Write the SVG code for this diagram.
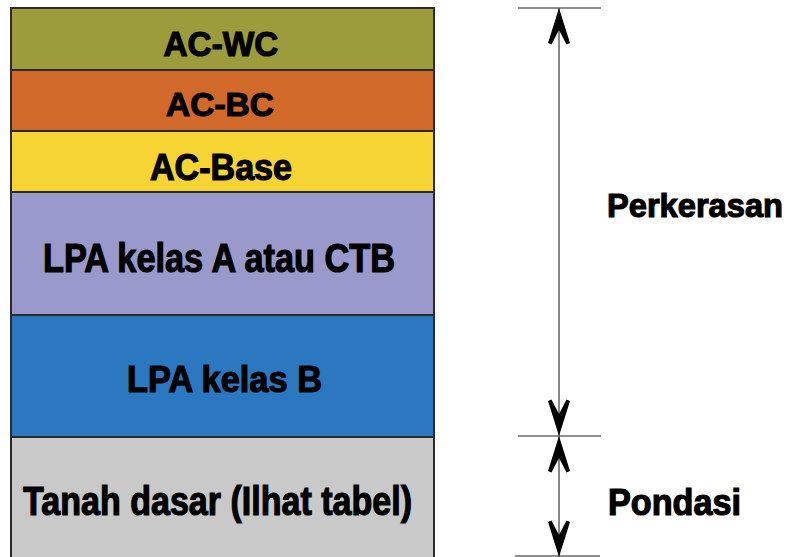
<svg xmlns="http://www.w3.org/2000/svg" width="793" height="557" viewBox="0 0 793 557">
  <style>
    .layer { stroke: #2b2b2b; stroke-width: 2; }
    .lbl { font-family: "Liberation Sans", Arial, sans-serif; font-weight: bold; fill: #000; stroke: #000; stroke-width: 1.2; text-anchor: middle; }
    .side { font-family: "Liberation Sans", Arial, sans-serif; font-weight: bold; fill: #000; stroke: #000; stroke-width: 1.2; }
    .dim { stroke: #6a6a6a; stroke-width: 1.6; fill: none; }
    .head { fill: #000; }
  </style>
  <defs>
    <!-- arrowhead pointing up, tip at origin -->
    <path id="ahUp" class="head" d="M0,0 L11,35 L7.5,36.5 L0,22 L-7.5,36.5 L-11,35 Z"/>
  </defs>
  <rect width="793" height="557" fill="#fff"/>

  <g id="ac-wc">
    <rect class="layer" x="11" y="8" width="423" height="62" fill="#9c9c3c"/>
    <text class="lbl" x="221" y="56" font-size="35" textLength="115" lengthAdjust="spacingAndGlyphs">AC-WC</text>
  </g>
  <g id="ac-bc">
    <rect class="layer" x="11" y="70" width="423" height="61" fill="#d0692a"/>
    <text class="lbl" x="220" y="116" font-size="34" textLength="108" lengthAdjust="spacingAndGlyphs">AC-BC</text>
  </g>
  <g id="ac-base">
    <rect class="layer" x="11" y="131" width="423" height="61" fill="#f6d433"/>
    <text class="lbl" x="221" y="180" font-size="36" textLength="142" lengthAdjust="spacingAndGlyphs">AC-Base</text>
  </g>
  <g id="lpa-a">
    <rect class="layer" x="11" y="192" width="423" height="123" fill="#9999cc"/>
    <text class="lbl" x="219" y="272" font-size="40" textLength="352" lengthAdjust="spacingAndGlyphs">LPA kelas A atau CTB</text>
  </g>
  <g id="lpa-b">
    <rect class="layer" x="11" y="315" width="423" height="122" fill="#2b77c0"/>
    <text class="lbl" x="224.5" y="392" font-size="36" textLength="195" lengthAdjust="spacingAndGlyphs">LPA kelas B</text>
  </g>
  <g id="tanah-dasar">
    <rect class="layer" x="11" y="437" width="423" height="124" fill="#c9c9c9"/>
    <text class="lbl" x="217.5" y="515" font-size="40" textLength="389" lengthAdjust="spacingAndGlyphs">Tanah dasar (Ilhat tabel)</text>
  </g>

  <g id="connectors">
    <!-- extension ticks -->
    <line class="dim" x1="518" y1="8" x2="601" y2="8"/>
    <line class="dim" x1="518" y1="436" x2="601" y2="436"/>
    <line class="dim" x1="515" y1="556" x2="600" y2="556"/>
    <!-- dimension line -->
    <line class="dim" x1="559" y1="8" x2="559" y2="557"/>
    <!-- arrowheads -->
    <use href="#ahUp" transform="translate(559,8)"/>
    <use href="#ahUp" transform="translate(559,436) rotate(180)"/>
    <use href="#ahUp" transform="translate(559,436)"/>
    <use href="#ahUp" transform="translate(559,557) rotate(180)"/>
  </g>

  <g id="perkerasan">
    <text class="side" x="607" y="217" font-size="34" textLength="176" lengthAdjust="spacingAndGlyphs">Perkerasan</text>
  </g>
  <g id="pondasi">
    <text class="side" x="608" y="515" font-size="36" textLength="133" lengthAdjust="spacingAndGlyphs">Pondasi</text>
  </g>
</svg>
